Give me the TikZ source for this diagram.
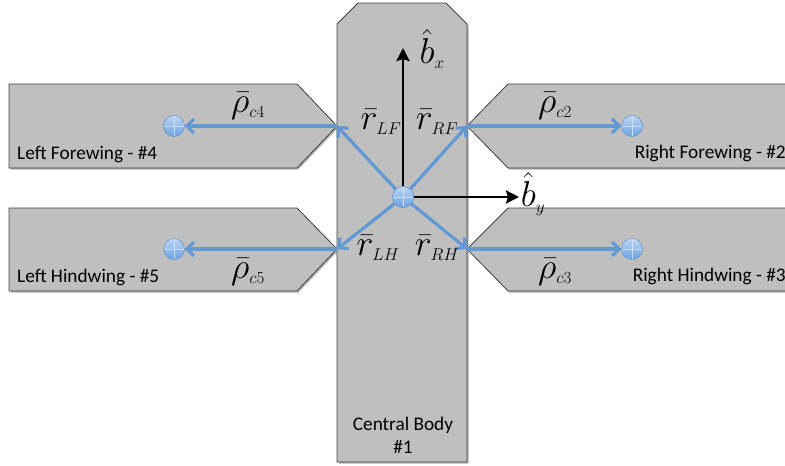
\RequirePackage{fix-cm}
\documentclass[tikz,border=0pt]{standalone}
\usepackage{fontspec}
\newfontfamily\wingfont{Carlito}
\usetikzlibrary{arrows.meta, shadows, positioning}
\DeclareMathSizes{36}{36}{17}{12}

\definecolor{plategray}{RGB}{191,191,191}
\definecolor{vecblue}{RGB}{98,152,212}
\definecolor{comblue}{RGB}{108,163,228}

\tikzset{
  plate/.style={fill=plategray, draw=black!75, line width=0.8pt,
    drop shadow={shadow xshift=1.5pt, shadow yshift=-1.5pt, opacity=0.3, fill=black}},
  vec/.style={vecblue, line width=3.2pt, -{Straight Barb[length=7pt, width=14pt]}},
  axis/.style={black, line width=2.8pt, -{Stealth[length=13pt, width=13pt, inset=2pt]}},
  com/.style={circle, inner sep=0pt, minimum size=21pt, draw=comblue!85!black, line width=0.4pt,
    top color=comblue!45!white, bottom color=comblue,
    path picture={\draw[comblue!35!white, line width=0.8pt]
      (path picture bounding box.north) -- (path picture bounding box.south)
      (path picture bounding box.west) -- (path picture bounding box.east);}},
  mathlbl/.style={inner sep=0pt, font=\fontsize{36}{40}\selectfont},
  winglbl/.style={inner sep=0pt, font=\wingfont\fontsize{19.3}{23}\selectfont}
}

\begin{document}
\begin{tikzpicture}[x=1pt, y=-1pt]
    \useasboundingbox (0,0) rectangle (785,466);

    % 1. Wings (behind the body)
    \draw[plate] (9,84) -- (297,84) -- (337,126) -- (297,168) -- (9,168) -- cycle;
    \draw[plate] (9,208) -- (297,208) -- (337,249) -- (297,291) -- (9,291) -- cycle;
    \draw[plate] (792,84) -- (508,84) -- (467,126) -- (508,168) -- (792,168) -- cycle;
    \draw[plate] (792,208) -- (508,208) -- (467,249) -- (508,291) -- (792,291) -- cycle;

    % 2. Central body
    \draw[plate] (337,24) -- (358,3) -- (446,3) -- (467,24) -- (467,462) -- (337,462) -- cycle;

    % Wing and body names
    \node[winglbl, anchor=base west] (nLF) at (17,159) {Left Forewing - \#4};
    \node[winglbl, anchor=base east] (nRF) at (786,158) {Right Forewing - \#2};
    \node[winglbl, anchor=base west] (nLH) at (17,282) {Left Hindwing - \#5};
    \node[winglbl, anchor=base east] (nRH) at (786,281) {Right Hindwing - \#3};
    \node[winglbl, align=center] (nCB) at (403,435) {Central Body\\\#1};

    % 3. Centre of the body, joints and wing centres
    \node[com] (cg) at (403,197) {};
    \coordinate (jLF) at (337,126);
    \coordinate (jRF) at (467,126);
    \coordinate (jLH) at (337,249);
    \coordinate (jRH) at (467,249);
    \node[com] (cLF) at (174,126) {};
    \node[com] (cRF) at (632,126) {};
    \node[com] (cLH) at (174,249) {};
    \node[com] (cRH) at (632,249) {};

    % Body axes
    \coordinate (bx) at (403,48);
    \coordinate (by) at (519,197);
    \draw[axis] (cg) -- (bx);
    \draw[axis] (cg) -- (by);

    % Position vectors body -> joint -> wing centre
    \draw[vec] (cg) -- (jLF);
    \draw[vec] (cg) -- (jRF);
    \draw[vec] (cg) -- (jLH);
    \draw[vec] (cg) -- (jRH);
    \draw[vec] (jLF) -- (cLF);
    \draw[vec] (jRF) -- (cRF);
    \draw[vec] (jLH) -- (cLH);
    \draw[vec] (jRH) -- (cRH);
    \node[com] at (cg) {};

    % 4. Vector labels
    \node[mathlbl] (lbx) at (432,49) {$\hat{b}_x$};
    \node[mathlbl] (lby) at (533,194) {$\hat{b}_y$};
    \node[mathlbl] (lrLF) at (381,122) {$\bar{r}_{LF}$};
    \node[mathlbl] (lrRF) at (437,122) {$\bar{r}_{RF}$};
    \node[mathlbl] (lrLH) at (378,248) {$\bar{r}_{LH}$};
    \node[mathlbl] (lrRH) at (437,248) {$\bar{r}_{RH}$};
    \node[mathlbl] (lpc4) at (248,106) {$\bar{\rho}_{c4}$};
    \node[mathlbl] (lpc2) at (555,106) {$\bar{\rho}_{c2}$};
    \node[mathlbl] (lpc5) at (248,272) {$\bar{\rho}_{c5}$};
    \node[mathlbl] (lpc3) at (555,272) {$\bar{\rho}_{c3}$};
\end{tikzpicture}
\end{document}
